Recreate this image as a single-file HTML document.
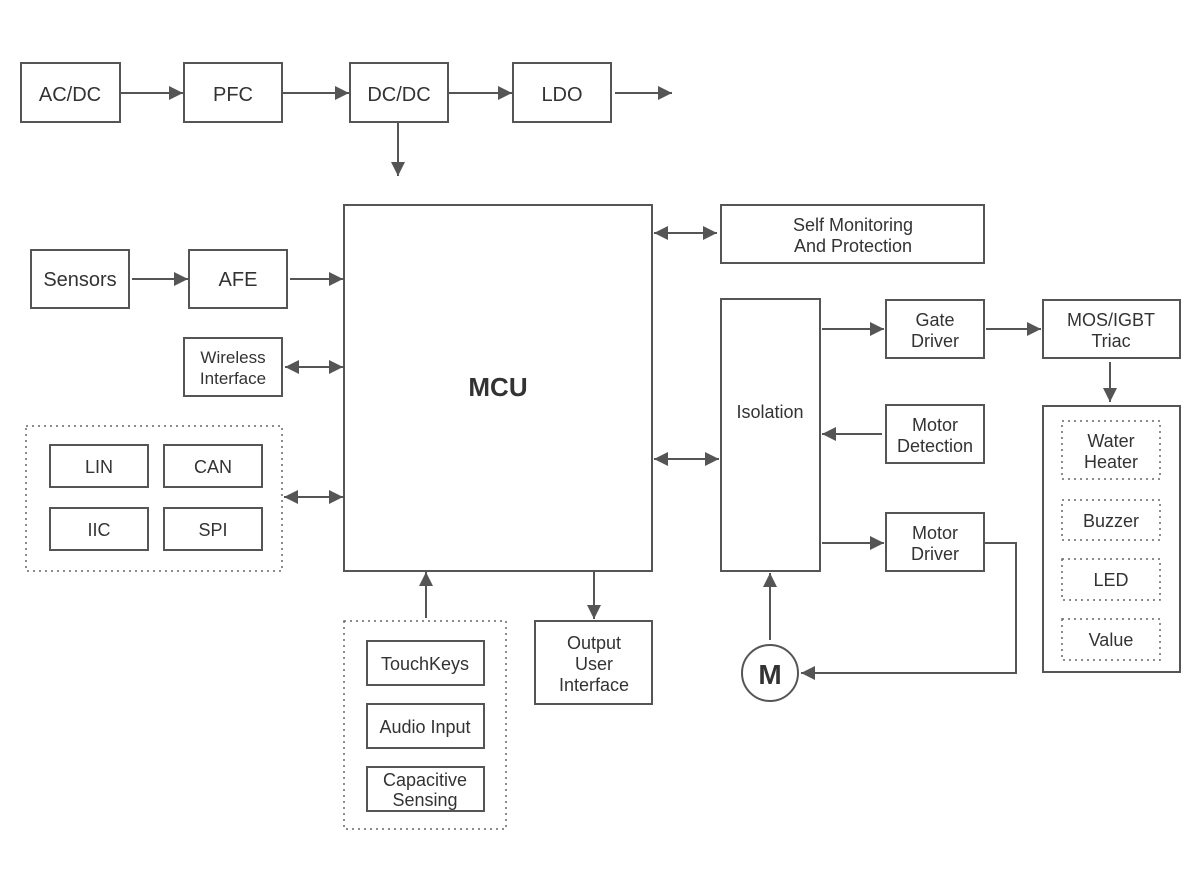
<!DOCTYPE html>
<html><head><meta charset="utf-8"><style>
html,body{margin:0;padding:0;background:#fff;}
svg{display:block}
text{font-family:"Liberation Sans","Noto Sans CJK SC",sans-serif;font-size:18px;fill:#333;text-anchor:middle;}
.t{font-size:20px}
.b{fill:none;stroke:#555;stroke-width:2}
.d{fill:none;stroke:#666;stroke-width:1.5;stroke-dasharray:2,4}
.l{stroke:#555;stroke-width:2;fill:none}
</style></head><body>
<svg width="1200" height="894" viewBox="0 0 1200 894">
<defs>
<marker id="a" viewBox="0 0 10 10" refX="10" refY="5" markerWidth="14" markerHeight="14" markerUnits="userSpaceOnUse" orient="auto-start-reverse"><path d="M0,0L10,5L0,10z" fill="#555"/></marker>
</defs>
<rect class="b" x="21" y="63" width="99" height="59"/><text class="t" x="70" y="101">AC/DC</text>
<rect class="b" x="184" y="63" width="98" height="59"/><text class="t" x="233" y="101">PFC</text>
<rect class="b" x="350" y="63" width="98" height="59"/><text class="t" x="399" y="101">DC/DC</text>
<rect class="b" x="513" y="63" width="98" height="59"/><text class="t" x="562" y="101">LDO</text>
<line class="l" x1="121" y1="93" x2="183" y2="93" marker-end="url(#a)"/>
<line class="l" x1="283" y1="93" x2="349" y2="93" marker-end="url(#a)"/>
<line class="l" x1="449" y1="93" x2="512" y2="93" marker-end="url(#a)"/>
<line class="l" x1="615" y1="93" x2="672" y2="93" marker-end="url(#a)"/>
<line class="l" x1="398" y1="122" x2="398" y2="176" marker-end="url(#a)"/>
<rect class="b" x="344" y="205" width="308" height="366"/>
<text x="498" y="396" style="font-size:26px;font-weight:bold;fill:#333">MCU</text>
<rect class="b" x="31" y="250" width="98" height="58"/><text class="t" x="80" y="286">Sensors</text>
<rect class="b" x="189" y="250" width="98" height="58"/><text class="t" x="238" y="286">AFE</text>
<line class="l" x1="132" y1="279" x2="188" y2="279" marker-end="url(#a)"/>
<line class="l" x1="290" y1="279" x2="343" y2="279" marker-end="url(#a)"/>
<rect class="b" x="184" y="338" width="98" height="58"/><text x="233" y="363" style="font-size:17px">Wireless</text><text x="233" y="384" style="font-size:17px">Interface</text>
<line class="l" x1="285" y1="367" x2="343" y2="367" marker-start="url(#a)" marker-end="url(#a)"/>
<rect class="d" x="26" y="426" width="256" height="145"/>
<rect class="b" x="50" y="445" width="98" height="42"/><text x="99" y="473">LIN</text>
<rect class="b" x="164" y="445" width="98" height="42"/><text x="213" y="473">CAN</text>
<rect class="b" x="50" y="508" width="98" height="42"/><text x="99" y="536">IIC</text>
<rect class="b" x="164" y="508" width="98" height="42"/><text x="213" y="536">SPI</text>
<line class="l" x1="284" y1="497" x2="343" y2="497" marker-start="url(#a)" marker-end="url(#a)"/>
<rect class="d" x="344" y="621" width="162" height="208"/>
<rect class="b" x="367" y="641" width="117" height="44"/><text x="425" y="670">TouchKeys</text>
<rect class="b" x="367" y="704" width="117" height="44"/><text x="425" y="733">Audio Input</text>
<rect class="b" x="367" y="767" width="117" height="44"/><text x="425" y="786">Capacitive</text><text x="425" y="806">Sensing</text>
<line class="l" x1="426" y1="618" x2="426" y2="572" marker-end="url(#a)"/>
<rect class="b" x="535" y="621" width="117" height="83"/><text x="594" y="649">Output</text><text x="594" y="670">User</text><text x="594" y="691">Interface</text>
<line class="l" x1="594" y1="571" x2="594" y2="619" marker-end="url(#a)"/>
<rect class="b" x="721" y="205" width="263" height="58"/><text x="853" y="231">Self Monitoring</text><text x="853" y="252">And Protection</text>
<line class="l" x1="654" y1="233" x2="717" y2="233" marker-start="url(#a)" marker-end="url(#a)"/>
<rect class="b" x="721" y="299" width="99" height="272"/><text x="770" y="418">Isolation</text>
<line class="l" x1="654" y1="459" x2="719" y2="459" marker-start="url(#a)" marker-end="url(#a)"/>
<rect class="b" x="886" y="300" width="98" height="58"/><text x="935" y="326">Gate</text><text x="935" y="347">Driver</text>
<line class="l" x1="822" y1="329" x2="884" y2="329" marker-end="url(#a)"/>
<rect class="b" x="1043" y="300" width="137" height="58"/><text x="1111" y="326">MOS/IGBT</text><text x="1111" y="347">Triac</text>
<line class="l" x1="986" y1="329" x2="1041" y2="329" marker-end="url(#a)"/>
<line class="l" x1="1110" y1="362" x2="1110" y2="402" marker-end="url(#a)"/>
<rect class="b" x="886" y="405" width="98" height="58"/><text x="935" y="431">Motor</text><text x="935" y="452">Detection</text>
<line class="l" x1="882" y1="434" x2="822" y2="434" marker-end="url(#a)"/>
<rect class="b" x="886" y="513" width="98" height="58"/><text x="935" y="539">Motor</text><text x="935" y="560">Driver</text>
<line class="l" x1="822" y1="543" x2="884" y2="543" marker-end="url(#a)"/>
<polyline class="l" points="985,543 1016,543 1016,673 801,673" marker-end="url(#a)"/>
<circle cx="770" cy="673" r="28" fill="none" stroke="#555" stroke-width="2"/>
<text x="770" y="684" style="font-size:28px;font-weight:bold">M</text>
<line class="l" x1="770" y1="640" x2="770" y2="573" marker-end="url(#a)"/>
<rect class="b" x="1043" y="406" width="137" height="266"/>
<rect class="d" x="1062" y="421" width="98" height="58"/><text x="1111" y="447">Water</text><text x="1111" y="468">Heater</text>
<rect class="d" x="1062" y="500" width="98" height="40"/><text x="1111" y="527">Buzzer</text>
<rect class="d" x="1062" y="559" width="98" height="41"/><text x="1111" y="586">LED</text>
<rect class="d" x="1062" y="619" width="98" height="41"/><text x="1111" y="646">Value</text>
</svg>
</body></html>
